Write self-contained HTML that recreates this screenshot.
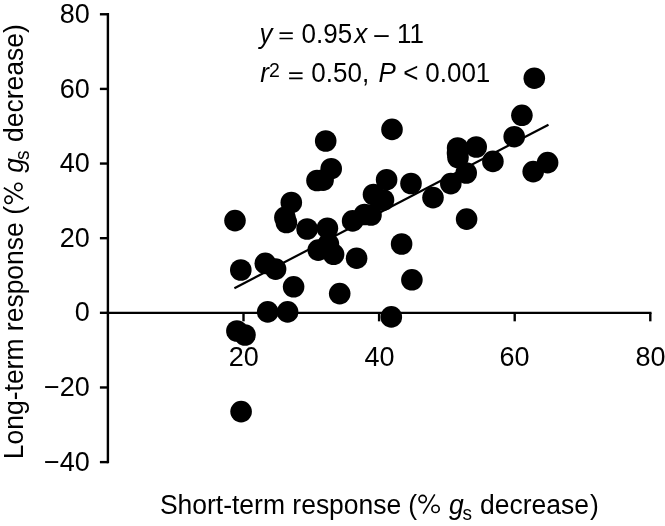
<!DOCTYPE html>
<html><head><meta charset="utf-8"><style>
html,body{margin:0;padding:0;background:#fff;width:665px;height:526px;overflow:hidden}
svg{position:absolute;left:0;top:0;will-change:transform}
text{font-family:'Liberation Sans',sans-serif;fill:#000}
</style></head><body>
<svg width="665" height="526" viewBox="0 0 665 526">
<line x1="107.90" y1="13.07" x2="107.90" y2="463.31" stroke="#000" stroke-width="2.4"/>
<line x1="99.90" y1="14.27" x2="107.90" y2="14.27" stroke="#000" stroke-width="2.4"/>
<line x1="99.90" y1="88.91" x2="107.90" y2="88.91" stroke="#000" stroke-width="2.4"/>
<line x1="99.90" y1="163.55" x2="107.90" y2="163.55" stroke="#000" stroke-width="2.4"/>
<line x1="99.90" y1="238.19" x2="107.90" y2="238.19" stroke="#000" stroke-width="2.4"/>
<line x1="99.90" y1="312.83" x2="107.90" y2="312.83" stroke="#000" stroke-width="2.4"/>
<line x1="99.90" y1="387.47" x2="107.90" y2="387.47" stroke="#000" stroke-width="2.4"/>
<line x1="99.90" y1="462.11" x2="107.90" y2="462.11" stroke="#000" stroke-width="2.4"/>
<line x1="106.70" y1="312.83" x2="651.50" y2="312.83" stroke="#000" stroke-width="2.4"/>
<line x1="243.50" y1="312.83" x2="243.50" y2="321.33" stroke="#000" stroke-width="2.4"/>
<line x1="379.10" y1="312.83" x2="379.10" y2="321.33" stroke="#000" stroke-width="2.4"/>
<line x1="514.70" y1="312.83" x2="514.70" y2="321.33" stroke="#000" stroke-width="2.4"/>
<line x1="650.30" y1="312.83" x2="650.30" y2="321.33" stroke="#000" stroke-width="2.4"/>
<line x1="234.4" y1="288.3" x2="548.5" y2="124.7" stroke="#000" stroke-width="2.2"/>
<circle cx="235" cy="220.6" r="10.8"/>
<circle cx="240.8" cy="270" r="10.8"/>
<circle cx="265.3" cy="263.4" r="10.8"/>
<circle cx="275.6" cy="269.1" r="10.8"/>
<circle cx="293.6" cy="286.8" r="10.8"/>
<circle cx="267.7" cy="311.9" r="10.8"/>
<circle cx="287.6" cy="311.9" r="10.8"/>
<circle cx="236.9" cy="331.0" r="10.8"/>
<circle cx="245" cy="335" r="10.8"/>
<circle cx="241.1" cy="411.6" r="10.8"/>
<circle cx="291.3" cy="202.5" r="10.8"/>
<circle cx="284.9" cy="217.4" r="10.8"/>
<circle cx="286.4" cy="222.5" r="10.8"/>
<circle cx="307.1" cy="229" r="10.8"/>
<circle cx="325.7" cy="141" r="10.8"/>
<circle cx="331.2" cy="168.7" r="10.8"/>
<circle cx="317" cy="180.5" r="10.8"/>
<circle cx="323.1" cy="180.1" r="10.8"/>
<circle cx="327.4" cy="228.2" r="10.8"/>
<circle cx="318.2" cy="250.1" r="10.8"/>
<circle cx="328.4" cy="243.9" r="10.8"/>
<circle cx="333.6" cy="254.3" r="10.8"/>
<circle cx="356.6" cy="258.2" r="10.8"/>
<circle cx="339.7" cy="293.6" r="10.8"/>
<circle cx="352.6" cy="220.9" r="10.8"/>
<circle cx="364.5" cy="214.5" r="10.8"/>
<circle cx="371" cy="215" r="10.8"/>
<circle cx="373.5" cy="194.5" r="10.8"/>
<circle cx="383.5" cy="200" r="10.8"/>
<circle cx="386.6" cy="179.7" r="10.8"/>
<circle cx="392" cy="129.4" r="10.8"/>
<circle cx="411" cy="183.5" r="10.8"/>
<circle cx="433" cy="197.6" r="10.8"/>
<circle cx="401.6" cy="244" r="10.8"/>
<circle cx="411.9" cy="279.8" r="10.8"/>
<circle cx="391.3" cy="316.9" r="10.8"/>
<circle cx="450.8" cy="183.6" r="10.8"/>
<circle cx="466.2" cy="173" r="10.8"/>
<circle cx="457.6" cy="148" r="10.8"/>
<circle cx="458" cy="157.5" r="10.8"/>
<circle cx="457.5" cy="153" r="10.8"/>
<circle cx="476.2" cy="147" r="10.8"/>
<circle cx="492.9" cy="161.4" r="10.8"/>
<circle cx="466.6" cy="219.1" r="10.8"/>
<circle cx="534.3" cy="78.2" r="10.8"/>
<circle cx="521.9" cy="115.3" r="10.8"/>
<circle cx="514.2" cy="136.7" r="10.8"/>
<circle cx="547.6" cy="162.6" r="10.8"/>
<circle cx="533.2" cy="171.6" r="10.8"/>
<g transform="translate(418.26,513.3)" fill="none" stroke="#000" stroke-width="1.65"><circle cx="4.38" cy="-14.26" r="3.65"/><circle cx="17.28" cy="-4.42" r="3.65"/><line x1="4.9" y1="0.3" x2="16.5" y2="-19.0" stroke-width="1.6"/></g>
<g transform="translate(22.8,204.2) rotate(-90)" fill="none" stroke="#000" stroke-width="1.65"><circle cx="4.38" cy="-14.26" r="3.65"/><circle cx="17.28" cy="-4.42" r="3.65"/><line x1="4.9" y1="0.3" x2="16.5" y2="-19.0" stroke-width="1.6"/></g>
<rect x="279.5" y="32.32" width="13.30" height="1.7" rx="0.3"/>
<rect x="279.5" y="37.64" width="13.30" height="1.7" rx="0.3"/>
<rect x="289.1" y="72.22" width="13.50" height="1.7" rx="0.3"/>
<rect x="289.1" y="77.54" width="13.50" height="1.7" rx="0.3"/>
<text class="ck" id="yt80" transform="translate(89.70,22.87) scale(1,1.0)" text-anchor="end" style="font-size:27px">80</text>
<text class="ck" id="yt60" transform="translate(89.70,97.51) scale(1,1.0)" text-anchor="end" style="font-size:27px">60</text>
<text class="ck" id="yt40" transform="translate(89.70,172.15) scale(1,1.0)" text-anchor="end" style="font-size:27px">40</text>
<text class="ck" id="yt20" transform="translate(89.70,246.79) scale(1,1.0)" text-anchor="end" style="font-size:27px">20</text>
<text class="ck" id="yt0" transform="translate(89.70,321.43) scale(1,1.0)" text-anchor="end" style="font-size:27px">0</text>
<text class="ck" id="yt-20" transform="translate(89.70,396.07) scale(1,1.0)" text-anchor="end" style="font-size:27px">−20</text>
<text class="ck" id="yt-40" transform="translate(89.70,470.71) scale(1,1.0)" text-anchor="end" style="font-size:27px">−40</text>
<text class="ck" id="xt20" transform="translate(243.80,366.40) scale(1,1.0)" text-anchor="middle" style="font-size:27px">20</text>
<text class="ck" id="xt40" transform="translate(379.40,366.40) scale(1,1.0)" text-anchor="middle" style="font-size:27px">40</text>
<text class="ck" id="xt60" transform="translate(514.50,366.40) scale(1,1.0)" text-anchor="middle" style="font-size:27px">60</text>
<text class="ck" id="xt80" transform="translate(650.60,366.40) scale(1,1.0)" text-anchor="middle" style="font-size:27px">80</text>
<text class="ck" id="e1y" transform="translate(259.40,43.00) scale(1,1.04)" text-anchor="start" style="font-size:26px;font-style:italic">y</text>
<text class="ck" id="e1n" transform="translate(301.60,43.00) scale(1,1.04)" text-anchor="start" style="font-size:26px">0.95</text>
<text class="ck" id="e1x" transform="translate(354.20,43.00) scale(1,1.04)" text-anchor="start" style="font-size:26px;font-style:italic">x</text>
<text class="ck" id="e1d" transform="translate(374.20,43.00) scale(1,1.04)" text-anchor="start" style="font-size:26px">–</text>
<text class="ck" id="e1e" transform="translate(410.50,43.00) scale(1,1.04)" text-anchor="middle" style="font-size:26px">11</text>
<text class="ck" id="e2r" transform="translate(260.20,82.30) scale(1,1.04)" text-anchor="start" style="font-size:26px;font-style:italic">r</text>
<text class="ck" id="e2n" transform="translate(311.30,82.30) scale(1,1.04)" text-anchor="start" style="font-size:26px">0.50,</text>
<text class="ck" id="e2p" transform="translate(378.50,82.30) scale(1,1.04)" text-anchor="start" style="font-size:26px;font-style:italic">P</text>
<text class="ck" id="e2lt" transform="translate(403.20,82.30) scale(1,1.04)" text-anchor="start" style="font-size:26px">&lt;</text>
<text class="ck" id="e2v" transform="translate(457.80,82.30) scale(1,1.04)" text-anchor="middle" style="font-size:26px">0.001</text>
<text class="ck" id="e2s" transform="translate(268.90,76.60) scale(1,1.04)" text-anchor="start" style="font-size:19.5px">2</text>
<text class="ck" id="xl1" transform="translate(159.90,513.80) scale(1,1.04)" text-anchor="start" style="font-size:26.5px">Short-term response</text>
<text class="ck" id="xl2" transform="translate(408.20,513.80) scale(1,1.04)" text-anchor="start" style="font-size:26.5px">(</text>
<text class="ck" id="xl4" transform="translate(449.00,513.80) scale(1,1.04)" text-anchor="start" style="font-size:26.5px;font-style:italic">g</text>
<text class="ck" id="xl6" transform="translate(480.10,513.80) scale(1,1.04)" text-anchor="start" style="font-size:26.5px">decrease</text>
<text class="ck" id="xl7" transform="translate(590.00,513.80) scale(1,1.04)" text-anchor="start" style="font-size:26.5px">)</text>
<text class="ck" id="xl5" transform="translate(462.60,520.30) scale(1,1.04)" text-anchor="start" style="font-size:19px">s</text>
<text class="ck" id="yl1" transform="rotate(-90) translate(-459.20,22.80) scale(1,1.04)" text-anchor="start" style="font-size:26.5px">Long-term response</text>
<text class="ck" id="yl2" transform="rotate(-90) translate(-214.70,22.80) scale(1,1.04)" text-anchor="start" style="font-size:26.5px">(</text>
<text class="ck" id="yl4" transform="rotate(-90) translate(-172.80,22.80) scale(1,1.04)" text-anchor="start" style="font-size:26.5px;font-style:italic">g</text>
<text class="ck" id="yl6" transform="rotate(-90) translate(-142.00,22.80) scale(1,1.04)" text-anchor="start" style="font-size:26.5px">decrease</text>
<text class="ck" id="yl7" transform="rotate(-90) translate(-33.00,22.80) scale(1,1.04)" text-anchor="start" style="font-size:26.5px">)</text>
<text class="ck" id="yl5" transform="rotate(-90) translate(-160.00,29.30) scale(1,1.04)" text-anchor="start" style="font-size:19px">s</text>
</svg>
</body></html>
